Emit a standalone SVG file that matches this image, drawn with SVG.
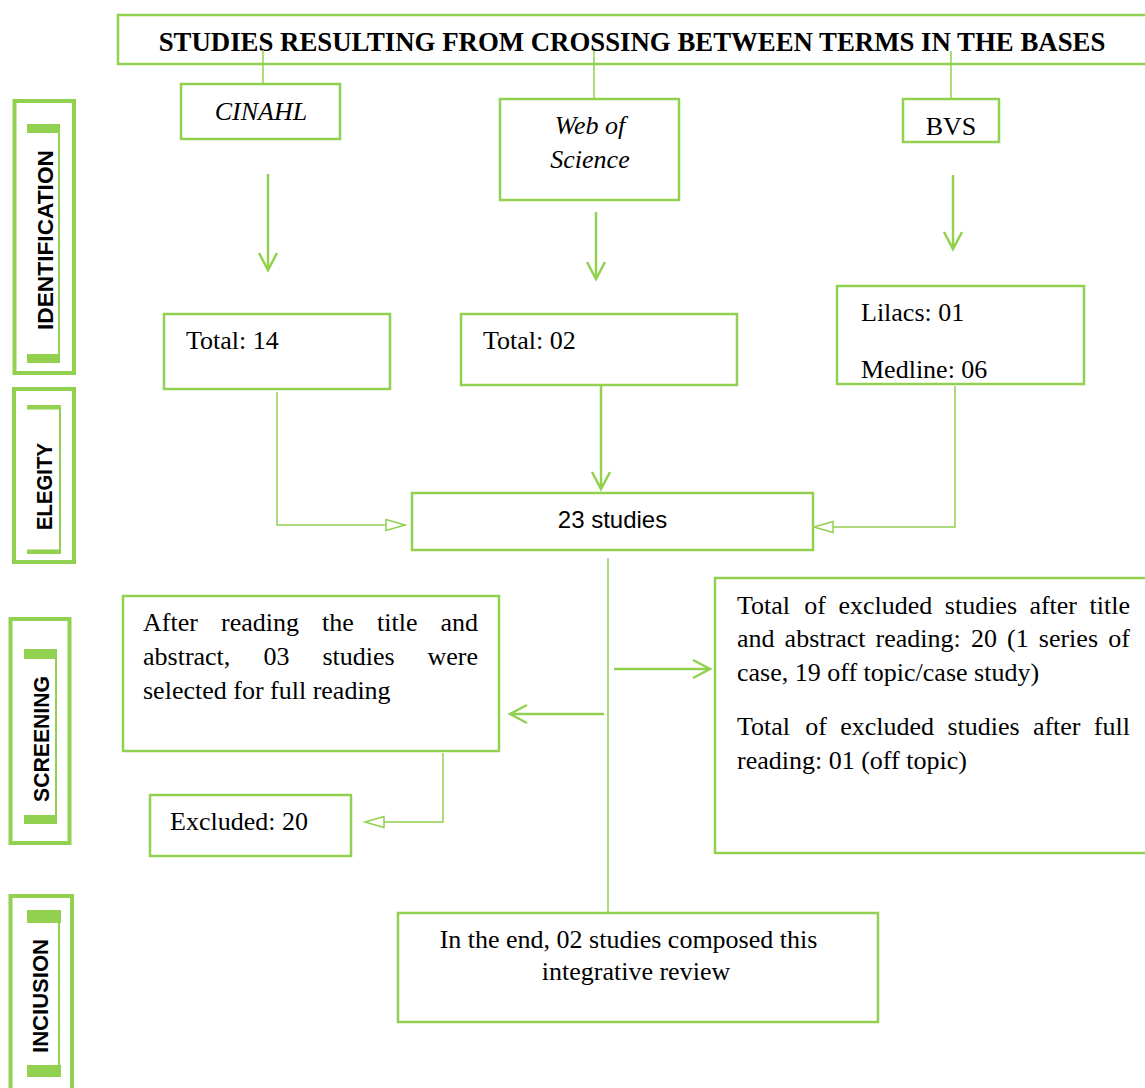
<svg xmlns="http://www.w3.org/2000/svg" width="1145" height="1088" viewBox="0 0 1145 1088">
<style>
.box{fill:#fff;stroke:#92D050;stroke-width:2.5}
.phase{fill:none;stroke:#92D050;stroke-width:4}
.bar{fill:#92D050}
.vl{stroke:#92D050;stroke-width:2}
.t{font-family:"Liberation Serif","Times New Roman",serif;font-size:26px;fill:#000}
.ti{font-family:"Liberation Serif","Times New Roman",serif;font-size:26px;font-style:italic;fill:#000}
.tb{font-family:"Liberation Serif","Times New Roman",serif;font-size:26.8px;font-weight:bold;fill:#000}
.s{font-family:"Liberation Sans",Arial,sans-serif;font-size:24px;fill:#000}
.lab{font-family:"Liberation Sans",Arial,sans-serif;font-size:22px;font-weight:bold;fill:#000}
.thin{fill:none;stroke:#92D050;stroke-width:1.5}
.thick{fill:none;stroke:#92D050;stroke-width:2.5}
</style>
<defs>
<marker id="v" markerUnits="userSpaceOnUse" viewBox="-20 -11 22 22" refX="0" refY="0" markerWidth="22" markerHeight="22" orient="auto" overflow="visible">
<path d="M-17,-9 L0,0 L-17,9" fill="none" stroke="#92D050" stroke-width="2.5"/>
</marker>
<marker id="tri" markerUnits="userSpaceOnUse" viewBox="-22 -8 24 16" refX="0" refY="0" markerWidth="24" markerHeight="16" orient="auto" overflow="visible">
<path d="M-19,-5.5 L0,0 L-19,5.5 Z" fill="#fff" stroke="#92D050" stroke-width="1.5"/>
</marker>
</defs>
<rect width="1145" height="1088" fill="#fff"/>

<g id="phase-identification">
<rect class="phase" x="14.5" y="101" width="59.5" height="272"/>
<rect class="bar" x="27" y="124" width="33" height="9"/>
<rect class="bar" x="27" y="354" width="33" height="9"/>
<line class="vl" x1="59" y1="124" x2="59" y2="363"/>
<text class="lab" transform="translate(53,240) rotate(-90)" text-anchor="middle" textLength="180" lengthAdjust="spacingAndGlyphs">IDENTIFICATION</text>
</g>
<g id="phase-elegity">
<rect class="phase" x="14" y="389" width="60" height="173"/>
<rect class="bar" x="27" y="405" width="34" height="4.5"/>
<rect class="bar" x="27" y="549.5" width="34" height="4.5"/>
<line class="vl" x1="60" y1="405" x2="60" y2="554"/>
<text class="lab" transform="translate(52,486.5) rotate(-90)" text-anchor="middle" textLength="87" lengthAdjust="spacingAndGlyphs">ELEGITY</text>
</g>
<g id="phase-screening">
<rect class="phase" x="10.5" y="619" width="59" height="224"/>
<rect class="bar" x="24" y="649" width="33" height="10"/>
<rect class="bar" x="24" y="815" width="33" height="9"/>
<line class="vl" x1="56" y1="649" x2="56" y2="824"/>
<text class="lab" transform="translate(49,739) rotate(-90)" text-anchor="middle" textLength="126" lengthAdjust="spacingAndGlyphs">SCREENING</text>
</g>
<g id="phase-inclusion">
<rect class="phase" x="10.5" y="896" width="61.5" height="200"/>
<rect class="bar" x="27" y="910" width="34" height="13"/>
<rect class="bar" x="27" y="1065" width="34" height="12"/>
<line class="vl" x1="59" y1="910" x2="59" y2="1077"/>
<text class="lab" transform="translate(48,996) rotate(-90)" text-anchor="middle" textLength="114" lengthAdjust="spacingAndGlyphs">INCIUSION</text>
</g>

<g id="title">
<rect class="box" x="118" y="15" width="1040" height="49"/>
<text class="tb" x="632" y="51" text-anchor="middle">STUDIES RESULTING FROM CROSSING BETWEEN TERMS IN THE BASES</text>
</g>

<g id="connectors">
<line class="thin" x1="263" y1="50" x2="263" y2="84"/>
<line class="thin" x1="594" y1="51" x2="594" y2="99"/>
<line class="thin" x1="951" y1="51" x2="951" y2="99"/>
<line class="thick" x1="268" y1="174" x2="268" y2="270" marker-end="url(#v)"/>
<line class="thick" x1="596" y1="212" x2="596" y2="279" marker-end="url(#v)"/>
<line class="thick" x1="953" y1="175" x2="953" y2="249" marker-end="url(#v)"/>
<polyline class="thin" points="277,392 277,525 405,525" marker-end="url(#tri)"/>
<line class="thick" x1="601" y1="382" x2="601" y2="489" marker-end="url(#v)"/>
<polyline class="thin" points="955,386 955,527 814,527" marker-end="url(#tri)"/>
<line class="thin" x1="608" y1="558" x2="608" y2="913"/>
<line class="thick" x1="614" y1="669" x2="710" y2="669" marker-end="url(#v)"/>
<line class="thick" x1="604" y1="714" x2="510" y2="714" marker-end="url(#v)"/>
<polyline class="thin" points="443,753 443,822 365,822" marker-end="url(#tri)"/>
</g>

<g id="cinahl">
<rect class="box" x="181" y="84" width="159" height="55"/>
<text class="ti" x="261" y="120" text-anchor="middle">CINAHL</text>
</g>
<g id="wos">
<rect class="box" x="500" y="99" width="179" height="101"/>
<text class="ti" x="590" y="134" text-anchor="middle">Web of</text>
<text class="ti" x="590" y="168" text-anchor="middle">Science</text>
</g>
<g id="bvs">
<rect class="box" x="903" y="99" width="96" height="43"/>
<text class="t" x="951" y="135" text-anchor="middle">BVS</text>
</g>

<g id="total14">
<rect class="box" x="164" y="314" width="226" height="75"/>
<text class="t" x="186" y="349">Total: 14</text>
</g>
<g id="total02">
<rect class="box" x="461" y="314" width="276" height="71"/>
<text class="t" x="483" y="349">Total: 02</text>
</g>
<g id="lilacs">
<rect class="box" x="837" y="286" width="247" height="98"/>
<text class="t" x="861" y="321">Lilacs: 01</text>
<text class="t" x="861" y="378">Medline: 06</text>
</g>

<g id="studies23">
<rect class="box" x="412" y="493" width="401" height="57"/>
<text class="s" x="612.5" y="528" text-anchor="middle">23 studies</text>
</g>

<g id="after-reading">
<rect class="box" x="123" y="596" width="376" height="155"/>
<text class="t" y="631"><tspan x="143">After</tspan><tspan x="221">reading</tspan><tspan x="322">the</tspan><tspan x="377">title</tspan><tspan x="440.5">and</tspan></text>
<text class="t" y="665"><tspan x="143">abstract,</tspan><tspan x="263.4">03</tspan><tspan x="322.4">studies</tspan><tspan x="427.5">were</tspan></text>
<text class="t" x="143" y="699">selected for full reading</text>
</g>

<g id="excluded20">
<rect class="box" x="150" y="795" width="201" height="61"/>
<text class="t" x="170" y="830">Excluded: 20</text>
</g>

<g id="excluded-total">
<rect class="box" x="715" y="578" width="445" height="275"/>
<text class="t" y="614"><tspan x="737">Total</tspan><tspan x="804.3">of</tspan><tspan x="838.5">excluded</tspan><tspan x="944.8">studies</tspan><tspan x="1029.4">after</tspan><tspan x="1089.5">title</tspan></text>
<text class="t" y="647"><tspan x="737">and</tspan><tspan x="784.6">abstract</tspan><tspan x="875.6">reading:</tspan><tspan x="970.9">20</tspan><tspan x="1007">(1</tspan><tspan x="1038.8">series</tspan><tspan x="1108.2">of</tspan></text>
<text class="t" x="737" y="681">case, 19 off topic/case study)</text>
<text class="t" y="735"><tspan x="737">Total</tspan><tspan x="805.2">of</tspan><tspan x="840.2">excluded</tspan><tspan x="947.4">studies</tspan><tspan x="1032.9">after</tspan><tspan x="1093.8">full</tspan></text>
<text class="t" x="737" y="769">reading: 01 (off topic)</text>
</g>

<g id="final">
<rect class="box" x="398" y="913" width="480" height="109"/>
<text class="t" x="628.5" y="948" text-anchor="middle">In the end, 02 studies composed this</text>
<text class="t" x="636" y="980" text-anchor="middle">integrative review</text>
</g>
</svg>
